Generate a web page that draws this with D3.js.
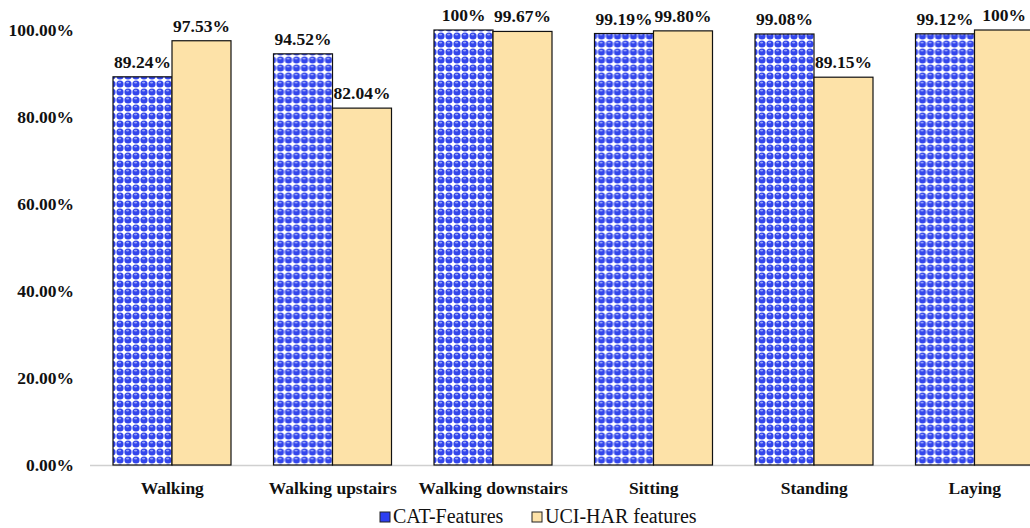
<!DOCTYPE html>
<html><head><meta charset="utf-8">
<script src="https://cdn.jsdelivr.net/npm/d3@7"></script>
<style>
html,body{margin:0;padding:0;background:#fff;}
svg{display:block;}
</style></head>
<body>
<svg id="chart" width="1030" height="528"></svg>
<script>
const categories = ["Walking","Walking upstairs","Walking downstairs","Sitting","Standing","Laying"];
const seriesNames = ["CAT-Features","UCI-HAR features"];
const catValues = [0.8924,0.9452,1.0,0.9919,0.9908,0.9912];
const uciValues = [0.9753,0.8204,0.9967,0.9980,0.8915,1.0];
const catLabels = ["89.24%","94.52%","100%","99.19%","99.08%","99.12%"];
const uciLabels = ["97.53%","82.04%","99.67%","99.80%","89.15%","100%"];
const yTicks = [0,0.2,0.4,0.6,0.8,1.0];

const svg = d3.select("#chart");
const font = "'Liberation Serif','Times New Roman',serif";

const defs = svg.append("defs");
const pat = defs.append("pattern").attr("id","dots").attr("patternUnits","userSpaceOnUse")
  .attr("width",8).attr("height",8);
pat.append("rect").attr("width",8).attr("height",8).attr("fill","#ffffff");
pat.append("circle").attr("cx",4).attr("cy",4).attr("r",3.6).attr("fill","#3346ec");
pat.append("ellipse").attr("cx",3.6).attr("cy",2.6).attr("rx",1.6).attr("ry",0.9).attr("fill","#9aa5f7");

const x0 = d3.scaleBand().domain(categories).range([92,1055]).padding(0);
const x1 = d3.scaleBand().domain(seriesNames).range([21,139]).padding(0);
const y = d3.scaleLinear().domain([0,1]).range([465,30]);

// axis line
svg.append("line").attr("x1",90).attr("x2",1030).attr("y1",y(0)+0.5).attr("y2",y(0)+0.5)
  .attr("stroke","#d0d0d0").attr("stroke-width",1.5);

// y tick labels
const yAxis = d3.axisLeft(y).tickValues(yTicks).tickFormat(d3.format(".2%")).tickSize(0).tickPadding(0);
const gy = svg.append("g").attr("transform","translate(74,0)").call(yAxis);
gy.select(".domain").remove();
gy.selectAll("text").attr("font-family",font).attr("font-weight","bold").attr("font-size","17.5px")
  .attr("fill","#111").attr("dy","0.32em");

const data = categories.map((c,i)=>({cat:c, vals:[
  {s:seriesNames[0], v:catValues[i], lab:catLabels[i]},
  {s:seriesNames[1], v:uciValues[i], lab:uciLabels[i]}]}));
const fills = {"CAT-Features":"url(#dots)","UCI-HAR features":"#fde2a8"};

const groups = svg.selectAll("g.grp").data(data).enter().append("g").attr("class","grp")
  .attr("transform",d=>`translate(${x0(d.cat)},0)`);
groups.selectAll("rect").data(d=>d.vals).enter().append("rect")
  .attr("x",d=>x1(d.s)).attr("width",x1.bandwidth())
  .attr("y",d=>y(d.v)).attr("height",d=>y(0)-y(d.v))
  .attr("fill",d=>fills[d.s]).attr("stroke","#111").attr("stroke-width",1.2);
groups.selectAll("text.val").data(d=>d.vals).enter().append("text").attr("class","val")
  .attr("x",d=>x1(d.s)+x1.bandwidth()/2).attr("y",d=>y(d.v)-9)
  .attr("text-anchor","middle").attr("font-family",font).attr("font-weight","bold")
  .attr("font-size","17.5px").attr("fill","#111").text(d=>d.lab);

// category labels
const xAxis = d3.axisBottom(x0).tickSize(0).tickPadding(0);
const gx = svg.append("g").attr("transform","translate(0,482)").call(xAxis);
gx.select(".domain").remove();
gx.selectAll("text").attr("font-family",font).attr("font-weight","bold").attr("font-size","17.5px")
  .attr("fill","#111").attr("dy","0.71em");

// legend
const legX = [380,532];
const leg = svg.selectAll("g.leg").data(seriesNames).enter().append("g").attr("class","leg")
  .attr("transform",(d,i)=>`translate(${legX[i]},0)`);
leg.append("rect").attr("x",0).attr("y",512).attr("width",10).attr("height",10)
  .attr("fill",(d,i)=>i===0?"#2c3ef0":"#fde2a8").attr("stroke","#222").attr("stroke-width",1);
leg.append("text").attr("x",13).attr("y",523).attr("font-family",font).attr("font-size","20px")
  .attr("fill","#111").text(d=>d);
</script>
</body></html>
